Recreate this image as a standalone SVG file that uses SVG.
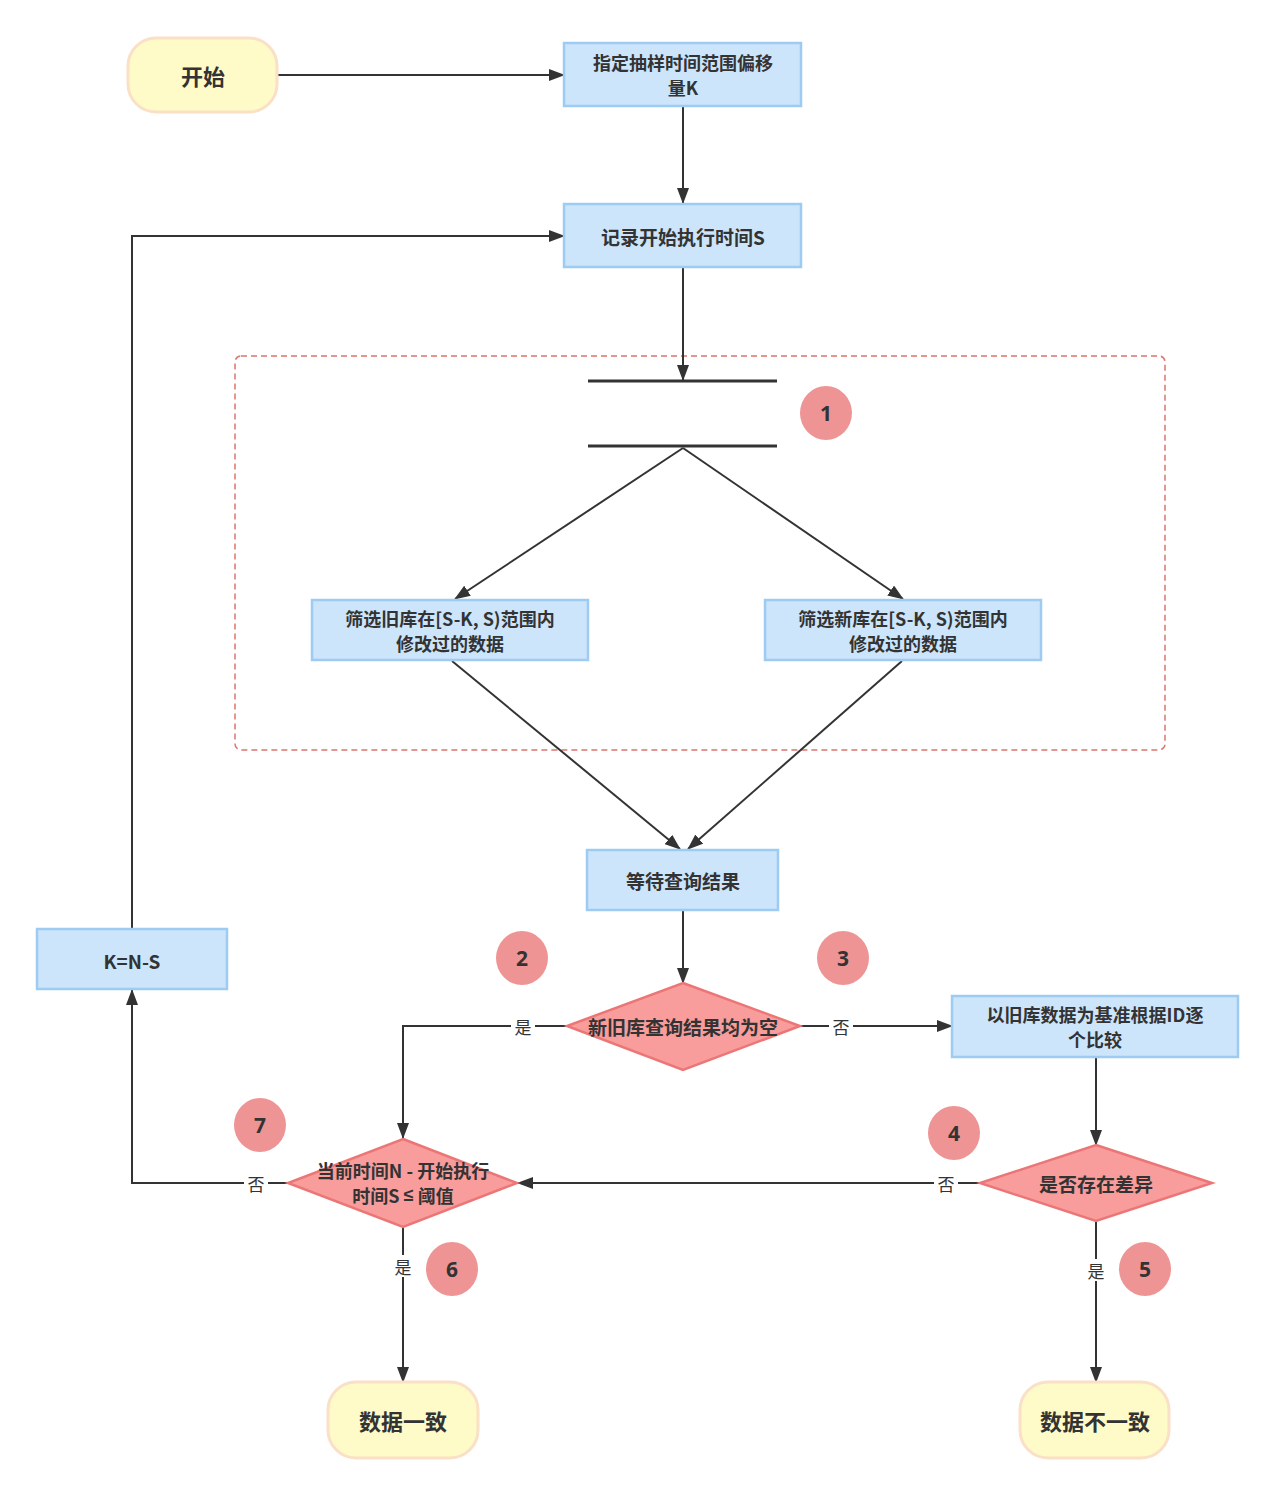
<svg xmlns="http://www.w3.org/2000/svg" width="1275" height="1494" viewBox="0 0 1275 1494">
<style>
.term{fill:#fefbc9;stroke:#fae0c6;stroke-width:3}
.box{fill:#cce5fb;stroke:#9dcbf1;stroke-width:2.5}
.dia{fill:#f89c9c;stroke:#ec7676;stroke-width:2.5}
.badge{fill:#ef9494}
.t{font-family:"Noto Sans CJK SC","Liberation Sans",sans-serif;font-weight:bold;font-size:19px;fill:#333;text-anchor:middle;dominant-baseline:central}
.t2{font-size:18px}
.tl{font-size:22px}
.bn{font-family:"Open Sans","Liberation Sans",sans-serif;font-weight:bold;font-size:21px;fill:#333;text-anchor:middle;dominant-baseline:central}
.lbl{font-family:"Noto Sans CJK SC",sans-serif;font-size:17px;fill:#333;text-anchor:middle;dominant-baseline:central}
.ln{fill:none;stroke:#333;stroke-width:2}
.bar{stroke:#333;stroke-width:3}
</style>
<defs>
<marker id="ah" markerWidth="16" markerHeight="12" refX="15" refY="6" orient="auto" markerUnits="userSpaceOnUse">
<path d="M0,0 L16,6 L0,12 Z" fill="#333"/>
</marker>
</defs>
<rect width="1275" height="1494" fill="#fff"/>
<g id="group-box">
<rect x="235" y="356" width="930" height="394" rx="6" fill="none" stroke="#d9776e" stroke-width="1.5" stroke-dasharray="6,4"/>
</g>
<g id="connectors">
<line class="ln" x1="278" y1="75" x2="564" y2="75" marker-end="url(#ah)"/>
<line class="ln" x1="683" y1="106" x2="683" y2="203" marker-end="url(#ah)"/>
<line class="ln" x1="683" y1="267" x2="683" y2="380" marker-end="url(#ah)"/>
<line class="ln" x1="683" y1="448" x2="455" y2="599" marker-end="url(#ah)"/>
<line class="ln" x1="683" y1="448" x2="903" y2="599" marker-end="url(#ah)"/>
<line class="ln" x1="452" y1="661" x2="680" y2="849" marker-end="url(#ah)"/>
<line class="ln" x1="902" y1="661" x2="688" y2="849" marker-end="url(#ah)"/>
<line class="ln" x1="683" y1="910" x2="683" y2="983" marker-end="url(#ah)"/>
<polyline class="ln" points="567,1026 403,1026 403,1138" marker-end="url(#ah)"/>
<line class="ln" x1="800" y1="1026" x2="952" y2="1026" marker-end="url(#ah)"/>
<line class="ln" x1="1096" y1="1057" x2="1096" y2="1145" marker-end="url(#ah)"/>
<line class="ln" x1="980" y1="1183" x2="518" y2="1183" marker-end="url(#ah)"/>
<polyline class="ln" points="288,1183 132,1183 132,990" marker-end="url(#ah)"/>
<polyline class="ln" points="132,929 132,236 564,236" marker-end="url(#ah)"/>
<line class="ln" x1="403" y1="1227" x2="403" y2="1382" marker-end="url(#ah)"/>
<line class="ln" x1="1096" y1="1221" x2="1096" y2="1382" marker-end="url(#ah)"/>
<rect x="511" y="1015" width="24" height="22" fill="#fff"/>
<text class="lbl" x="523" y="1026">是</text>
<rect x="829" y="1015" width="24" height="22" fill="#fff"/>
<text class="lbl" x="841" y="1026">否</text>
<rect x="934" y="1172" width="24" height="22" fill="#fff"/>
<text class="lbl" x="946" y="1183">否</text>
<rect x="244" y="1172" width="24" height="22" fill="#fff"/>
<text class="lbl" x="256" y="1183">否</text>
<rect x="391" y="1255" width="24" height="22" fill="#fff"/>
<text class="lbl" x="403" y="1266">是</text>
<rect x="1084" y="1259" width="24" height="22" fill="#fff"/>
<text class="lbl" x="1096" y="1270">是</text>
</g>
<g id="start">
<rect class="term" x="128" y="38" width="149" height="74" rx="28"/>
<text class="t tl" x="203" y="75">开始</text>
</g>
<g id="set-k">
<rect class="box" x="564" y="43" width="237" height="63"/>
<text class="t t2" x="683" y="62">指定抽样时间范围偏移</text>
<text class="t t2" x="683" y="87">量K</text>
</g>
<g id="record-s">
<rect class="box" x="564" y="204" width="237" height="63"/>
<text class="t" x="683" y="236">记录开始执行时间S</text>
</g>
<g id="fork">
<line class="bar" x1="588" y1="381" x2="777" y2="381"/>
<line class="bar" x1="588" y1="446" x2="777" y2="446"/>
</g>
<g id="filter-old">
<rect class="box" x="312" y="600" width="276" height="60"/>
<text class="t t2" x="450" y="618">筛选旧库在[S-K, S)范围内</text>
<text class="t t2" x="450" y="643">修改过的数据</text>
</g>
<g id="filter-new">
<rect class="box" x="765" y="600" width="276" height="60"/>
<text class="t t2" x="903" y="618">筛选新库在[S-K, S)范围内</text>
<text class="t t2" x="903" y="643">修改过的数据</text>
</g>
<g id="wait">
<rect class="box" x="587" y="850" width="191" height="60"/>
<text class="t" x="683" y="880">等待查询结果</text>
</g>
<g id="both-empty">
<polygon class="dia" points="683,983 800,1026 683,1070 567,1026"/>
<text class="t" x="683" y="1026">新旧库查询结果均为空</text>
</g>
<g id="compare">
<rect class="box" x="952" y="996" width="286" height="61"/>
<text class="t t2" x="1095" y="1014">以旧库数据为基准根据ID逐</text>
<text class="t t2" x="1095" y="1039">个比较</text>
</g>
<g id="diff">
<polygon class="dia" points="1096,1145 1212,1183 1096,1221 980,1183"/>
<text class="t" x="1096" y="1183">是否存在差异</text>
</g>
<g id="threshold">
<polygon class="dia" points="403,1139 517,1183 403,1227 288,1183"/>
<text class="t t2" x="403" y="1170">当前时间N - 开始执行</text>
<text class="t t2" x="403" y="1195">时间S <tspan font-family="Liberation Sans, sans-serif">≤</tspan> 阈值</text>
</g>
<g id="k-update">
<rect class="box" x="37" y="929" width="190" height="60"/>
<text class="t" x="132" y="960">K=N-S</text>
</g>
<g id="consistent">
<rect class="term" x="328" y="1382" width="150" height="76" rx="28"/>
<text class="t tl" x="403" y="1420">数据一致</text>
</g>
<g id="inconsistent">
<rect class="term" x="1020" y="1382" width="149" height="76" rx="28"/>
<text class="t tl" x="1095" y="1420">数据不一致</text>
</g>
<g id="badges">
<ellipse class="badge" cx="826" cy="413" rx="26" ry="27"/><text class="bn" x="826" y="413">1</text>
<ellipse class="badge" cx="522" cy="958" rx="26" ry="27"/><text class="bn" x="522" y="958">2</text>
<ellipse class="badge" cx="843" cy="958" rx="26" ry="27"/><text class="bn" x="843" y="958">3</text>
<ellipse class="badge" cx="954" cy="1133" rx="26" ry="27"/><text class="bn" x="954" y="1133">4</text>
<ellipse class="badge" cx="1145" cy="1269" rx="26" ry="27"/><text class="bn" x="1145" y="1269">5</text>
<ellipse class="badge" cx="452" cy="1269" rx="26" ry="27"/><text class="bn" x="452" y="1269">6</text>
<ellipse class="badge" cx="260" cy="1125" rx="26" ry="27"/><text class="bn" x="260" y="1125">7</text>
</g>
</svg>
